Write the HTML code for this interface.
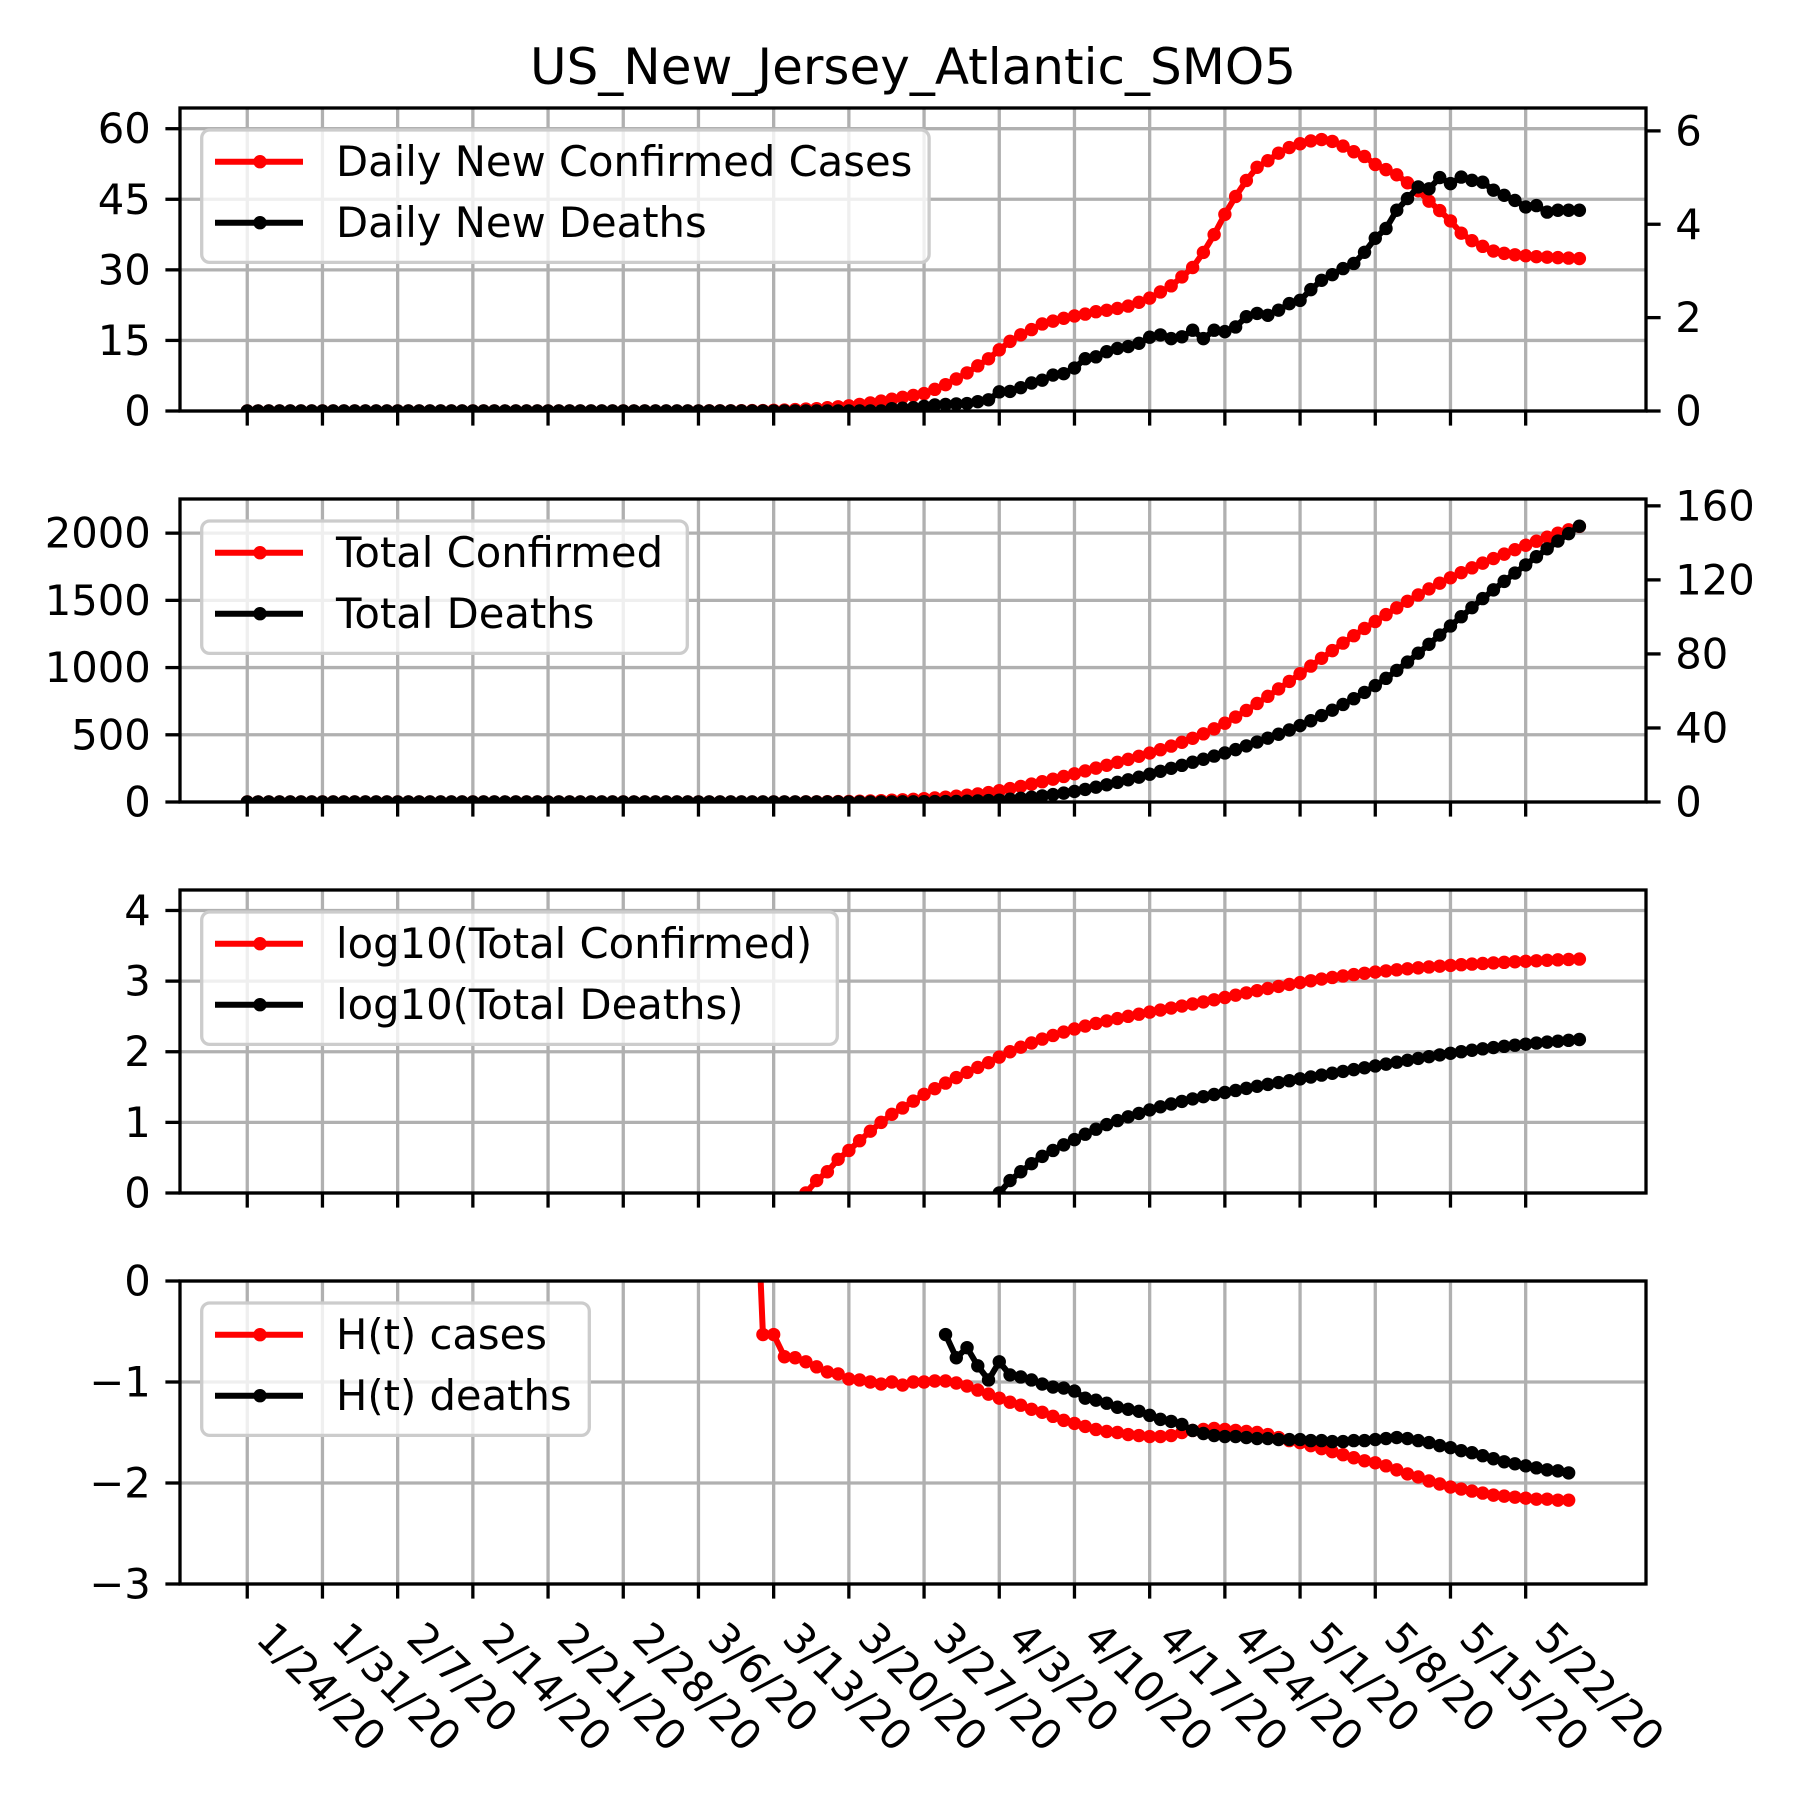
<!DOCTYPE html>
<html><head><meta charset="utf-8"><style>
html,body{margin:0;padding:0;background:#fff}
svg{display:block}
text{font-family:"DejaVu Sans","Liberation Sans",sans-serif;fill:#000}
</style></head><body>
<svg id="fig" width="1800" height="1800" viewBox="0 0 1800 1800" xmlns="http://www.w3.org/2000/svg">
<rect width="1800" height="1800" fill="#fff"/>
<text x="913" y="84" font-size="50" text-anchor="middle">US_New_Jersey_Atlantic_SMO5</text>
</svg>
<script>
// ---- data (day index 0 = 1/24/20) ----
const xTickLabels = ["1/24/20","1/31/20","2/7/20","2/14/20","2/21/20","2/28/20","3/6/20","3/13/20","3/20/20","3/27/20","4/3/20","4/10/20","4/17/20","4/24/20","5/1/20","5/8/20","5/15/20","5/22/20"];
const xTickDays = [0,7,14,21,28,35,42,49,56,63,70,77,84,91,98,105,112,119];
const dailyCases = [0,0,0,0,0,0,0,0,0,0,0,0,0,0,0,0,0,0,0,0,0,0,0,0,0,0,0,0,0,0,0,0,0,0,0,0,0,0,0,0,
0,0.01,0.02,0.03,0.04,0.05,0.06,0.08,0.1,0.15,0.2,0.3,0.4,0.5,0.7,0.9,1.1,1.4,1.7,2.1,2.5,2.9,3.3,
3.7,4.6,5.6,6.8,8.1,9.6,11.1,13,14.8,16.2,17.3,18.5,19.1,19.7,20.2,20.6,21.1,21.4,21.8,22.3,23.1,24,25.3,26.6,28.5,30.5,33.7,37.5,41.8,45.6,49,51.8,53.2,54.8,56,56.8,57.4,57.7,57.3,56.3,55.1,54.1,52.4,51.3,50.2,48.5,46.8,44.6,42.6,40.4,37.8,36.2,35,34,33.5,33.2,33,32.8,32.7,32.6,32.5,32.4];
const dailyDeaths = [0,0,0,0,0,0,0,0,0,0,0,0,0,0,0,0,0,0,0,0,0,0,0,0,0,0,0,0,0,0,0,0,0,0,0,0,0,0,0,0,
0,0,0,0,0,0,0,0,0,0,0,0,0,0,0,0,0,0,0,0,
0.05,0.06,0.07,0.1,0.13,0.14,0.15,0.16,0.2,0.24,0.41,0.42,0.5,0.6,0.66,0.77,0.8,0.92,1.12,1.16,1.27,1.34,1.38,1.45,1.58,1.63,1.55,1.59,1.73,1.55,1.73,1.7,1.8,2.02,2.09,2.05,2.16,2.3,2.37,2.6,2.8,2.92,3.05,3.16,3.4,3.7,3.91,4.3,4.55,4.8,4.76,5.0,4.87,5.01,4.94,4.9,4.73,4.62,4.51,4.37,4.4,4.26,4.3,4.3,4.3];
const totalCases = [0,0,0,0,0,0,0,0,0,0,0,0,0,0,0,0,0,0,0,0,0,0,0,0,0,0,0,0,0,0,0,0,0,0,0,0,0,0,0,0,0,0,0,0,0,
0.1,0.15,0.2,0.3,0.4,0.6,0.8,
1,1.5,2,3,4,5.5,7.5,10,13,16,20,25,30,36,43,51,60,70,84,100,116,133,151,170,190,210,231,252,273,295,317,340,364,389,416,444,474,507,544,586,632,681,733,786,841,897,954,1011,1069,1126,1182,1237,1291,1343,1394,1444,1493,1540,1585,1628,1668,1706,1742,1777,1811,1844,1877,1910,1940,1970,2000,2025,2050];
const totalDeaths = [0,0,0,0,0,0,0,0,0,0,0,0,0,0,0,0,0,0,0,0,0,0,0,0,0,0,0,0,0,0,0,0,0,0,0,0,0,0,0,0,
0,0,0,0,0,0,0,0,0,0,0,0,0,0,0,0,0,0,0,0,
0.05,0.08,0.1,0.15,0.2,0.25,0.3,0.4,0.55,0.75,
1,1.5,2,2.6,3.3,4,4.8,5.7,6.8,8,9.3,10.6,12,13.4,15,16.6,18.2,19.8,21.5,23.1,24.8,26.5,28.3,30.3,32.4,34.5,36.6,38.9,41.3,43.9,46.7,49.6,52.7,55.8,59.2,62.9,66.8,71.1,75.6,80.4,85.2,90.2,95.1,100.1,105,109.9,114.6,119.2,123.7,128.1,132.5,136.8,141,145,149];
const hCases = [null,null,null,null,null,null,null,null,null,null,null,null,null,null,null,null,null,null,null,null,null,null,null,null,null,null,null,null,null,null,null,null,null,null,null,null,null,null,null,null,null,null,null,null,null,null,null,
2,-0.53,-0.53,-0.75,-0.76,-0.8,-0.85,-0.9,-0.92,-0.97,-0.98,-1.0,-1.02,-1.0,-1.03,-1.0,-1.0,-0.99,-0.99,-1.01,-1.04,-1.08,-1.12,-1.16,-1.2,-1.23,-1.27,-1.3,-1.34,-1.38,-1.41,-1.44,-1.47,-1.49,-1.5,-1.52,-1.53,-1.54,-1.54,-1.53,-1.5,-1.48,-1.47,-1.46,-1.47,-1.48,-1.49,-1.5,-1.52,-1.55,-1.58,-1.6,-1.63,-1.66,-1.69,-1.72,-1.75,-1.78,-1.8,-1.83,-1.87,-1.91,-1.94,-1.98,-2.01,-2.04,-2.06,-2.08,-2.1,-2.12,-2.13,-2.14,-2.15,-2.16,-2.16,-2.17,-2.17,null];
const hDeaths = [null,null,null,null,null,null,null,null,null,null,null,null,null,null,null,null,null,null,null,null,null,null,null,null,null,null,null,null,null,null,null,null,null,null,null,null,null,null,null,null,null,null,null,null,null,null,null,null,null,null,null,null,null,null,null,null,null,null,null,null,null,null,null,null,null,
-0.53,-0.76,-0.66,-0.84,-0.98,-0.8,-0.93,-0.95,-0.98,-1.02,-1.05,-1.06,-1.09,-1.16,-1.18,-1.21,-1.25,-1.27,-1.29,-1.33,-1.37,-1.39,-1.42,-1.48,-1.51,-1.53,-1.54,-1.54,-1.55,-1.56,-1.56,-1.57,-1.57,-1.57,-1.58,-1.58,-1.59,-1.59,-1.58,-1.58,-1.57,-1.56,-1.55,-1.56,-1.58,-1.6,-1.63,-1.65,-1.68,-1.7,-1.73,-1.76,-1.79,-1.81,-1.83,-1.85,-1.87,-1.88,-1.9,null];
const p1LeftTicks = [0,15,30,45,60];
const p1RightTicks = [0,2,4,6];
const p2LeftTicks = [0,500,1000,1500,2000];
const p2RightTicks = [0,40,80,120,160];
const p3Ticks = [0,1,2,3,4];
const p4Ticks = [-3,-2,-1,0];

// ---- layout ----
const NS = "http://www.w3.org/2000/svg";
const svg = document.getElementById('fig');
const L = 180, R = 1646, XMIN = -6.26, XMAX = 130.2;
const FS = 41.7, TICK = 14.6, PAD = 14.6, MR = 6.7;
function xs(d){ return L + (d - XMIN) / (XMAX - XMIN) * (R - L); }
function mk(tag, attrs, parent){ const e = document.createElementNS(NS, tag); for (const k in attrs) e.setAttribute(k, attrs[k]); (parent||svg).appendChild(e); return e; }
function fmt(v){ return v < 0 ? "\u2212" + Math.abs(v) : String(v); }

const panels = [
  {t:108, b:411, l:[0,64.4], r:[0,6.49], lt:p1LeftTicks, rt:p1RightTicks, name:'daily-panel',
   series:[{d:dailyCases, ax:'l', c:'#ff0000', n:'daily-cases-line'},{d:dailyDeaths, ax:'r', c:'#000', n:'daily-deaths-line'}],
   leg:{w:727.4, labels:['Daily New Confirmed Cases','Daily New Deaths']}},
  {t:499, b:802, l:[0,2254], r:[0,163.7], lt:p2LeftTicks, rt:p2RightTicks, name:'total-panel',
   series:[{d:totalCases, ax:'l', c:'#ff0000', n:'total-cases-line'},{d:totalDeaths, ax:'r', c:'#000', n:'total-deaths-line'}],
   leg:{w:485.6, labels:['Total Confirmed','Total Deaths']}},
  {t:890, b:1193, l:[0,4.29], r:null, lt:p3Ticks, rt:null, name:'log-panel',
   series:[{d:totalCases.map(v => v > 0 ? Math.log10(v) : null), ax:'l', c:'#ff0000', n:'log-cases-line'},{d:totalDeaths.map(v => v > 0 ? Math.log10(v) : null), ax:'l', c:'#000', n:'log-deaths-line'}],
   leg:{w:635.6, labels:['log10(Total Confirmed)','log10(Total Deaths)']}},
  {t:1281, b:1584, l:[-3,0], r:null, lt:p4Ticks, rt:null, name:'ht-panel',
   series:[{d:hCases, ax:'l', c:'#ff0000', n:'ht-cases-line'},{d:hDeaths, ax:'l', c:'#000', n:'ht-deaths-line'}],
   leg:{w:387.6, labels:['H(t) cases','H(t) deaths']}}
];

panels.forEach((p, pi) => {
  const g = mk('g', {});
  
  
  const yl = v => p.b - (v - p.l[0]) / (p.l[1] - p.l[0]) * (p.b - p.t);
  const yr = p.r ? (v => p.b - (v - p.r[0]) / (p.r[1] - p.r[0]) * (p.b - p.t)) : yl;
  const cid = 'clip' + pi;
  const cp = mk('clipPath', {id: cid}, g);
  mk('rect', {x:L, y:p.t, width:R-L, height:p.b-p.t}, cp);
  xTickDays.forEach(d => {
    const ln = mk('line', {x1:xs(d), x2:xs(d), y1:p.t, y2:p.b, stroke:'#b0b0b0', 'stroke-width':3.3}, g);
    
    
  });
  p.lt.forEach(v => {
    const ln = mk('line', {x1:L, x2:R, y1:yl(v), y2:yl(v), stroke:'#b0b0b0', 'stroke-width':3.3}, g);
    
    
  });
  p.series.forEach(s => {
    const yf = s.ax === 'r' ? yr : yl;
    const sg = mk('g', {'clip-path':'url(#' + cid + ')'}, g);
    
    
    let path = '', pen = false;
    s.d.forEach((v, i) => {
      if (v === null || v === undefined || !isFinite(v)) { pen = false; return; }
      path += (pen ? 'L' : 'M') + xs(i).toFixed(2) + ' ' + yf(v).toFixed(2);
      pen = true;
    });
    mk('path', {d:path, fill:'none', stroke:s.c, 'stroke-width':6, 'stroke-linejoin':'round'}, sg);
    s.d.forEach((v, i) => {
      if (v === null || v === undefined || !isFinite(v)) return;
      const c = mk('circle', {cx:xs(i), cy:yf(v), r:MR, fill:s.c}, sg);
      
      
    });
  });
  const fr = mk('rect', {x:L, y:p.t, width:R-L, height:p.b-p.t, fill:'none', stroke:'#000', 'stroke-width':3.3}, g);
  
  
  xTickDays.forEach((d, i) => {
    mk('line', {x1:xs(d), x2:xs(d), y1:p.b, y2:p.b+TICK, stroke:'#000', 'stroke-width':3.3}, g);
    if (pi === 3) {
      const t = mk('text', {transform:'translate(' + (xs(d)+7) + ',' + (p.b+TICK+PAD+27) + ') rotate(45)', 'font-size':FS}, g);
      t.textContent = xTickLabels[i];
      
      
    }
  });
  p.lt.forEach(v => {
    mk('line', {x1:L-TICK, x2:L, y1:yl(v), y2:yl(v), stroke:'#000', 'stroke-width':3.3}, g);
    const t = mk('text', {x:L-TICK-PAD, y:yl(v), 'font-size':FS, 'text-anchor':'end', 'dominant-baseline':'central'}, g);
    t.textContent = fmt(v);
    
    
  });
  if (p.rt) p.rt.forEach(v => {
    mk('line', {x1:R, x2:R+TICK, y1:yr(v), y2:yr(v), stroke:'#000', 'stroke-width':3.3}, g);
    const t = mk('text', {x:R+TICK+PAD, y:yr(v), 'font-size':FS, 'dominant-baseline':'central'}, g);
    t.textContent = fmt(v);
    
    
  });
  const lg = mk('g', {}, g);
  
  
  const lx = 201.7, ly = p.t + 22;
  mk('rect', {x:lx, y:ly, width:p.leg.w, height:132.4, rx:8, fill:'#fff', 'fill-opacity':0.8, stroke:'#cccccc', 'stroke-width':3.3}, lg);
  p.leg.labels.forEach((lab, k) => {
    const cy = ly + 31.7 + k * 61;
    const col = k === 0 ? '#ff0000' : '#000';
    const e = mk('g', {}, lg);
    
    
    mk('line', {x1:215, x2:303, y1:cy, y2:cy, stroke:col, 'stroke-width':6}, e);
    mk('circle', {cx:260, cy:cy, r:MR, fill:col}, e);
    const t = mk('text', {x:336, y:cy, 'font-size':FS, 'dominant-baseline':'central'}, e);
    t.textContent = lab;
  });
});
</script>
</body></html>
